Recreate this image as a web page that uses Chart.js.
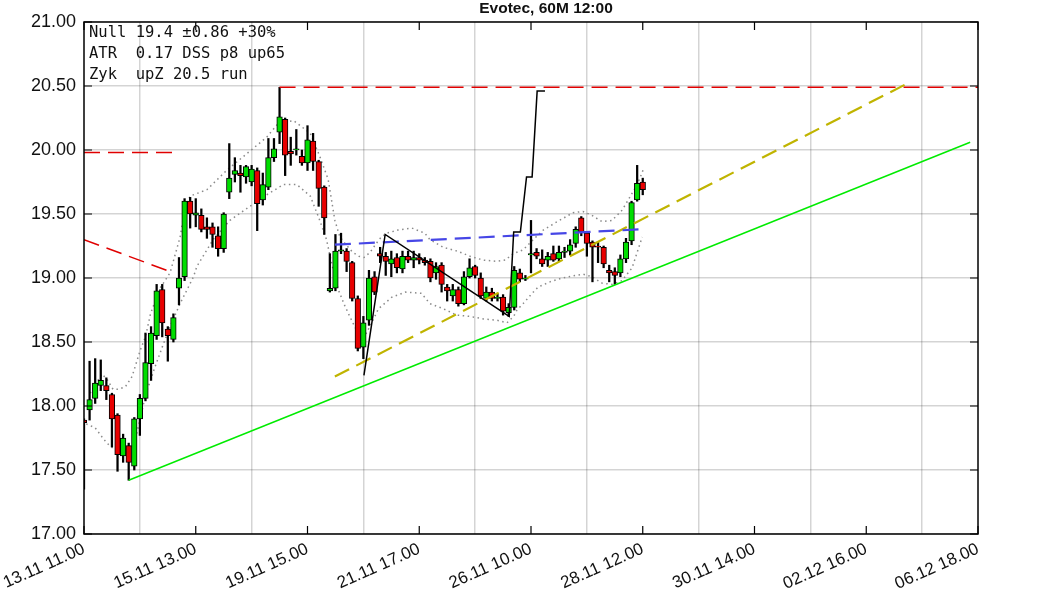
<!DOCTYPE html>
<html>
<head>
<meta charset="utf-8">
<script src="https://cdn.jsdelivr.net/npm/chart.js@4.4.1/dist/chart.umd.min.js"></script>
<style>
  html, body { margin: 0; padding: 0; background: #fff; }
  #wrap { width: 1063px; height: 591px; }
</style>
</head>
<body>
<div id="wrap"><canvas id="c" width="1063" height="591"></canvas></div>
<script>
// ---------- data ----------
const xTickLabels = ['13.11 11.00','15.11 13.00','19.11 15.00','21.11 17.00','26.11 10.00','28.11 12.00','30.11 14.00','02.12 16.00','06.12 18.00'];
const titleText = 'Evotec, 60M 12:00';
const infoLines = ['Null 19.4 \u00b10.86 +30%', 'ATR  0.17 DSS p8 up65', 'Zyk  upZ 20.5 run'];

const opens  = [17.89,17.97,18.06,18.16,18.16,18.09,17.93,17.61,17.69,17.53,17.90,18.06,18.33,18.55,18.91,18.60,18.52,18.92,19.01,19.60,19.49,19.49,19.40,19.40,19.33,19.23,19.67,19.81,19.82,19.79,19.75,19.84,19.61,19.71,19.94,20.14,20.24,19.99,20.00,19.95,19.90,20.07,19.91,19.71,18.90,18.92,19.21,19.21,19.12,18.84,18.46,18.67,19.01,19.19,19.17,19.11,19.16,19.07,19.17,19.14,19.16,19.14,19.13,19.04,19.10,18.93,18.86,18.91,18.80,19.01,19.09,19.00,18.84,18.89,18.84,18.85,18.73,18.77,19.04,18.99,19.18,19.20,19.15,19.14,19.19,19.15,19.20,19.21,19.27,19.47,19.35,19.28,19.25,19.24,19.06,19.05,19.04,19.15,19.29,19.61,19.75];
const highs  = [17.90,18.35,18.37,18.36,18.22,18.10,17.94,17.78,17.71,17.91,18.09,18.57,18.62,18.95,18.95,18.62,18.72,19.16,19.62,19.63,19.62,19.54,19.47,19.43,19.40,19.51,20.05,19.94,19.88,19.88,19.88,19.86,19.82,20.09,20.09,20.49,20.25,20.10,20.16,20.00,20.19,20.13,19.92,19.72,19.19,19.34,19.35,19.23,19.13,18.86,18.70,19.06,19.05,19.24,19.20,19.21,19.19,19.21,19.21,19.21,19.19,19.16,19.15,19.12,19.12,18.95,18.95,18.93,19.05,19.15,19.10,19.04,18.93,18.92,18.88,18.87,18.80,19.09,19.07,19.02,19.45,19.23,19.22,19.20,19.25,19.25,19.24,19.30,19.40,19.48,19.36,19.29,19.28,19.25,19.10,19.08,19.18,19.31,19.60,19.88,19.78];
const lows   = [17.35,17.89,18.02,18.12,18.05,17.68,17.49,17.56,17.42,17.50,17.77,18.04,18.20,18.52,18.54,18.35,18.50,18.79,18.98,19.39,19.40,19.36,19.31,19.24,19.17,19.20,19.62,19.75,19.67,19.74,19.72,19.37,19.57,19.69,19.91,20.05,19.80,19.88,19.96,19.88,19.84,19.84,19.56,19.34,18.89,18.90,19.19,19.05,18.82,18.43,18.37,18.63,18.87,19.12,19.02,19.01,19.04,19.04,19.12,19.08,19.11,19.10,18.97,18.99,18.89,18.82,18.82,18.78,18.79,19.00,19.00,18.84,18.82,18.82,18.82,18.71,18.70,18.75,18.97,18.98,19.04,19.15,19.09,19.09,19.13,19.13,19.16,19.18,19.24,19.33,19.17,18.97,19.12,19.08,18.97,18.95,19.01,19.12,19.26,19.60,19.65];
const closes = [17.87,18.05,18.18,18.20,18.12,17.90,17.62,17.75,17.56,17.90,18.06,18.34,18.57,18.90,18.65,18.55,18.69,19.00,19.60,19.50,19.51,19.38,19.38,19.34,19.23,19.50,19.78,19.84,19.80,19.87,19.85,19.58,19.73,19.94,20.01,20.26,19.96,19.97,20.01,19.90,20.08,19.91,19.70,19.47,18.92,19.21,19.22,19.13,18.84,18.45,18.65,19.00,18.89,19.17,19.13,19.15,19.08,19.17,19.14,19.16,19.14,19.12,19.00,19.09,18.95,18.90,18.91,18.80,19.01,19.08,19.02,18.86,18.89,18.84,18.85,18.74,18.77,19.06,18.99,19.00,19.19,19.17,19.11,19.17,19.14,19.20,19.21,19.26,19.38,19.36,19.27,19.24,19.24,19.11,19.04,19.02,19.15,19.28,19.59,19.74,19.69];

// envelope bands: [bar index, value]
const upperBand = [[1.1,18.10],[3.2,18.25],[4.1,18.21],[5.2,18.13],[6.1,18.13],[7.4,18.15],[8.6,18.23],[10.1,18.44],[11.0,18.54],[11.9,18.72],[13.6,18.92],[15.4,19.04],[17.2,19.32],[18.1,19.55],[19.0,19.64],[22.0,19.69],[25.5,19.84],[29.1,19.97],[32.7,20.10],[34.8,20.21],[37.5,20.23],[40.5,20.13],[42.2,19.95],[43.7,19.77],[44.9,19.45],[45.8,19.32],[47.1,19.25],[48.1,19.20],[49.2,19.17],[50.1,19.16],[51.2,19.20],[52.3,19.27],[53.2,19.32],[54.2,19.35],[56.2,19.375],[58.7,19.39],[61.0,19.35],[61.9,19.30],[64.3,19.24],[66.8,19.21],[69.1,19.17],[71.4,19.14],[73.9,19.13],[75.4,19.14],[76.8,19.19],[78.6,19.22],[80.4,19.30],[82.2,19.375],[84.7,19.44],[87.5,19.51],[89.3,19.52],[90.9,19.49],[92.7,19.44],[94.5,19.45],[96.3,19.53],[97.4,19.61],[98.6,19.70],[99.5,19.78],[100.2,19.86]];
const lowerBand = [[0.4,17.86],[2.0,17.83],[3.2,17.76],[4.1,17.71],[5.2,17.67],[7.2,17.62],[9.1,17.72],[11.1,18.10],[11.9,18.20],[12.5,18.28],[14.0,18.46],[15.4,18.62],[17.2,18.80],[19.6,19.01],[20.2,19.09],[23.1,19.30],[26.1,19.45],[29.7,19.56],[32.7,19.65],[35.7,19.73],[38.1,19.73],[40.5,19.64],[42.2,19.45],[43.4,19.30],[44.4,19.10],[45.5,18.91],[46.7,18.78],[47.9,18.67],[48.8,18.59],[50.3,18.55],[51.5,18.65],[52.7,18.76],[55.1,18.85],[57.5,18.89],[60.4,18.88],[61.9,18.80],[64.3,18.76],[66.7,18.71],[69.1,18.70],[71.5,18.68],[73.9,18.67],[75.7,18.65],[76.9,18.70],[77.5,18.75],[78.6,18.80],[80.2,18.88],[81.3,18.93],[83.4,18.97],[85.6,19.00],[87.9,19.02],[89.3,19.03],[90.9,19.01],[92.7,18.96],[94.5,18.95],[96.3,18.98],[98.1,19.08],[99.0,19.20],[99.9,19.32]];

// drawn trend lines: [bar index, value]
const redTopLine   = [[35,20.49],[160,20.49]];
const redMidLine   = [[0,19.98],[16.3,19.98]];
const redSlopeLine = [[0,19.30],[15.4,19.05]];
const blueLine     = [[44.9,19.26],[99.5,19.38]];
const oliveLine    = [[44.9,18.23],[146.9,20.51]];
const greenLine    = [[8,17.42],[158.6,20.06]];
const zigzagLine   = [[50.1,18.24],[53.9,19.34],[76.1,18.70],[76.9,19.36],[78.1,19.36],[79.2,19.79],[80.2,19.79],[81.1,20.46],[82.5,20.46]];

// ---------- build ----------
const pts = arr => arr.map(p => ({x: p[0], y: p[1]}));
const idx = opens.map((_, i) => i);
const bodies = idx.map(i => ({x: i, y: [opens[i], closes[i]]}));
const wicks = idx.map(i => ({x: i, y: [lows[i], highs[i]]}));
const bodyColors = idx.map(i => closes[i] >= opens[i] ? '#00dd00' : '#e80000');

function lineDs(data, color, dash, width, order) {
  return { type: 'line', data: pts(data), borderColor: color, borderWidth: width,
           borderDash: dash, pointRadius: 0, fill: false, tension: 0, order: order };
}

const frame = {
  id: 'frame',
  afterDraw(chart) {
    const {ctx, chartArea: a, scales} = chart;
    ctx.save();
    ctx.strokeStyle = '#000';
    ctx.lineWidth = 1.5;
    ctx.strokeRect(a.left, a.top, a.right - a.left, a.bottom - a.top);
    ctx.lineWidth = 1.2;
    const tl = 8;
    ctx.beginPath();
    for (let v = 0; v <= 160; v += 20) {
      const x = scales.x.getPixelForValue(v);
      ctx.moveTo(x, a.bottom); ctx.lineTo(x, a.bottom - tl);
      ctx.moveTo(x, a.top); ctx.lineTo(x, a.top + tl);
    }
    for (let v = 17; v <= 21.001; v += 0.5) {
      const y = scales.y.getPixelForValue(v);
      ctx.moveTo(a.left, y); ctx.lineTo(a.left + tl, y);
      ctx.moveTo(a.right, y); ctx.lineTo(a.right - tl, y);
    }
    ctx.stroke();
    // title
    ctx.fillStyle = '#111';
    ctx.font = 'bold 15.5px "Liberation Sans", Arial, sans-serif';
    ctx.textAlign = 'center';
    ctx.textBaseline = 'middle';
    ctx.fillText(titleText, 546, 9);
    // info box
    ctx.font = '15.5px "DejaVu Sans Mono", monospace';
    ctx.textAlign = 'left';
    infoLines.forEach((t, i) => ctx.fillText(t, a.left + 5, 33 + i * 21));
    ctx.restore();
  }
};

new Chart(document.getElementById('c'), {
  type: 'bar',
  data: {
    datasets: [
      lineDs(upperBand, '#8a8a8a', [1.5, 3.5], 1.5, 20),
      lineDs(lowerBand, '#8a8a8a', [1.5, 3.5], 1.5, 20),
      { type: 'bar', data: wicks, backgroundColor: '#000', borderWidth: 0,
        barThickness: 1.6, grouped: false, order: 12 },
      { type: 'bar', data: bodies, backgroundColor: bodyColors, borderColor: '#000',
        borderWidth: 1, borderSkipped: false, barThickness: 5.6, grouped: false, order: 11 },
      lineDs(redTopLine, '#e00000', [16, 8], 1.5, 2),
      lineDs(redMidLine, '#e00000', [16, 8], 1.5, 2),
      lineDs(redSlopeLine, '#e00000', [16, 8], 1.5, 2),
      lineDs(blueLine, '#4646e6', [16, 8], 2.2, 2),
      lineDs(oliveLine, '#c0b400', [16, 8], 2.2, 2),
      lineDs(greenLine, 'rgb(0,235,0)', [], 1.5, 2),
      lineDs(zigzagLine, '#000', [], 1.5, 1)
    ]
  },
  options: {
    responsive: false,
    animation: false,
    events: [],
    layout: { padding: { top: 22, right: 85, left: 0, bottom: 0 } },
    plugins: { legend: { display: false }, tooltip: { enabled: false }, title: { display: false } },
    scales: {
      x: {
        type: 'linear', min: 0, max: 160, offset: false,
        border: { display: false },
        grid: { color: 'rgba(0,0,0,0.17)', lineWidth: 1.5, drawTicks: false },
        ticks: {
          stepSize: 20, autoSkip: false, minRotation: 24, maxRotation: 24, padding: 5,
          color: '#111', font: { family: '"Liberation Sans", Arial, sans-serif', size: 17 },
          callback: v => xTickLabels[Math.round(v / 20)]
        },
        afterFit: s => { s.height = 57; s.paddingLeft = 0; s.paddingRight = 0; }
      },
      y: {
        min: 17, max: 21,
        border: { display: false },
        grid: { color: 'rgba(0,0,0,0.17)', lineWidth: 1.5, drawTicks: false },
        ticks: {
          stepSize: 0.5, padding: 8, color: '#111',
          font: { family: '"Liberation Sans", Arial, sans-serif', size: 18 },
          callback: v => v.toFixed(2)
        },
        afterFit: s => { s.width = 84; s.paddingTop = 0; s.paddingBottom = 0; }
      }
    }
  },
  plugins: [frame]
});
</script>
</body>
</html>
